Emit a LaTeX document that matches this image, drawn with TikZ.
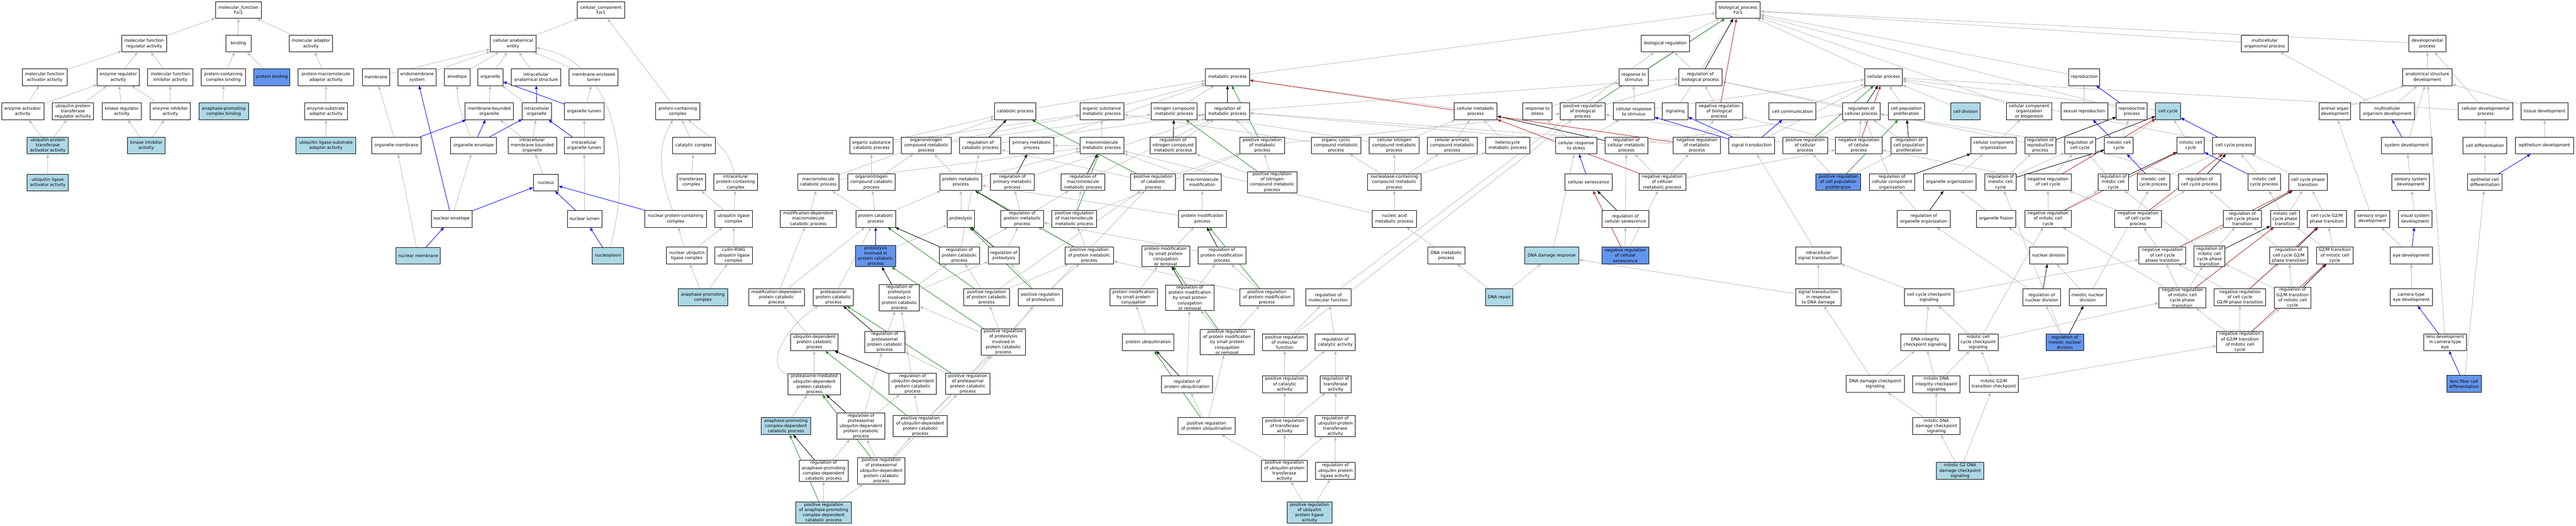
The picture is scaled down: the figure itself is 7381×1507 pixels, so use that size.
\documentclass[tikz,border=0pt]{standalone}
\usepackage{fontspec}
\setmainfont{DejaVu Sans}
\usetikzlibrary{arrows.meta}
\definecolor{cLB}{HTML}{ADD8E6}
\definecolor{cCB}{HTML}{6495ED}
\definecolor{cGray}{HTML}{BEBEBE}
\definecolor{cGreen}{HTML}{228B22}
\definecolor{cRed}{HTML}{B22222}
\pgfdeclarelayer{bg}\pgfsetlayers{bg,main}
\tikzset{
 gn/.style={draw=black, line width=1.3pt, fill=white, align=center, font=\fontsize{12}{15}\selectfont, inner xsep=2pt, inner ysep=2pt, minimum height=48pt},
 gnl/.style={gn, fill=cLB},
 gnc/.style={gn, fill=cCB},
 arr/.style={-{Triangle[length=10pt,width=8pt]}, line width=1.3pt},
 eg/.style={arr, draw=cGray},
 eb/.style={arr, draw=blue},
 ek/.style={arr, draw=black},
 egr/.style={arr, draw=cGreen},
 er/.style={arr, draw=cRed}
}
\newcommand{\gnode}[6][gn]{\node[#1, minimum width=#5pt] (#2) at (#3,#4) {#6};}
\begin{document}
\begin{tikzpicture}[x=1pt,y=-1pt]
\useasboundingbox (0,0) rectangle (7381,1507);
% ---------- molecular function ----------
\gnode{mfroot}{683}{29}{131}{molecular\_function\\Fzr1}
\gnode{mfreg}{413}{125}{128}{molecular function\\regulator activity}
\gnode{mfact}{128}{221}{129}{molecular function\\activator activity}
\gnode{enzreg}{339}{221}{121}{enzyme regulator\\activity}
\gnode{mfinh}{488}{221}{129}{molecular function\\inhibitor activity}
\gnode{enzact}{65}{319}{121}{enzyme activator\\activity}
\gnode{uptreg}{209}{319}{118}{ubiquitin-protein\\transferase\\regulator activity}
\gnode{kinreg}{349}{319}{112}{kinase regulator\\activity}
\gnode{enzinh}{488}{319}{116}{enzyme inhibitor\\activity}
\gnode[gnl]{uptact}{137}{417}{118}{ubiquitin-protein\\transferase\\activator activity}
\gnode[gnl]{kininh}{419}{417}{107}{kinase inhibitor\\activity}
\gnode[gnl]{ulact}{137}{523}{118}{ubiquitin ligase\\activator activity}
\gnode{binding}{683}{125}{73}{binding}
\gnode{molad}{891}{125}{125}{molecular adaptor\\activity}
\gnode{pccb}{640}{221}{126}{protein-containing\\complex binding}
\gnode[gnc]{protb}{779}{221}{104}{protein binding}
\gnode{pmad}{934}{221}{159}{protein-macromolecule\\adaptor activity}
\gnode[gnl]{apcb}{641}{319}{141}{anaphase-promoting\\complex binding}
\gnode{esad}{934}{319}{123}{enzyme-substrate\\adaptor activity}
\gnode[gnl]{ulsad}{934}{417}{171}{ubiquitin ligase-substrate\\adaptor activity}
% ---------- cellular component ----------
\gnode{membrane}{1077}{221}{78}{membrane}
\gnode{endo}{1195}{221}{109}{endomembrane\\system}
\gnode{orgmem}{1136}{417}{142}{organelle membrane}
\gnode[gnl]{nucmem}{1198}{733}{128}{nuclear membrane}
\gnode{ccroot}{1722}{29}{135}{cellular\_component\\Fzr1}
\gnode{cae}{1470}{125}{131}{cellular anatomical\\entity}
\gnode{envelope}{1310}{221}{73}{envelope}
\gnode{organelle}{1405}{221}{72}{organelle}
\gnode{ias}{1536}{221}{141}{intracellular\\anatomical structure}
\gnode{mel}{1701}{221}{140}{membrane-enclosed\\lumen}
\gnode{mbo}{1402}{319}{139}{membrane-bounded\\organelle}
\gnode{io}{1538}{319}{83}{intracellular\\organelle}
\gnode{orglumen}{1674}{319}{113}{organelle lumen}
\gnode{orgenv}{1357}{417}{131}{organelle envelope}
\gnode{imbo}{1525}{417}{139}{intracellular\\membrane-bounded\\organelle}
\gnode{iol}{1674}{417}{113}{intracellular\\organelle lumen}
\gnode{nucleus}{1564}{523}{72}{nucleus}
\gnode{nucenv}{1294}{627}{117}{nuclear envelope}
\gnode{nuclumen}{1675}{627}{99}{nuclear lumen}
\gnode[gnl]{nucleoplasm}{1742}{733}{89}{nucleoplasm}
\gnode{pcc}{1942}{319}{126}{protein-containing\\complex}
\gnode{catcx}{1988}{417}{123}{catalytic complex}
\gnode{transcx}{1981}{522}{80}{transferase\\complex}
\gnode{ipcc}{2108}{522}{126}{intracellular\\protein-containing\\complex}
\gnode{npcc}{1936}{627}{178}{nuclear protein-containing\\complex}
\gnode{ulc}{2102}{627}{107}{ubiquitin ligase\\complex}
\gnode{nulc}{1968}{732}{116}{nuclear ubiquitin\\ligase complex}
\gnode{crl}{2102}{732}{107}{cullin-RING\\ubiquitin ligase\\complex}
\gnode[gnl]{apc}{2014}{852}{141}{anaphase-promoting\\complex}
% ---------- catabolic ----------
\gnode{mcp}{2345}{522}{118}{macromolecule\\catabolic process}
\gnode{mdmcp}{2316}{627}{161}{modification-dependent\\macromolecule\\catabolic process}
\gnode{mdpcp}{2225}{852}{160}{modification-dependent\\protein catabolic\\process}
\gnode{ppcp}{2388}{852}{115}{proteasomal\\protein catabolic\\process}
\gnode{udpcp}{2333}{981}{137}{ubiquitin-dependent\\protein catabolic\\process}
\gnode{pmudpcp}{2333}{1101}{150}{proteasome-mediated\\ubiquitin-dependent\\protein catabolic\\process}
\gnode[gnl]{apcdcp}{2252}{1221}{142}{anaphase-promoting\\complex-dependent\\catabolic process}
\gnode{regpudpcp}{2467}{1221}{137}{regulation of\\proteasomal\\ubiquitin-dependent\\protein catabolic\\process}
\gnode{regapcdcp}{2360}{1349}{141}{regulation of\\anaphase-promoting\\complex-dependent\\catabolic process}
\gnode[gnl]{posregapcdcp}{2360}{1469}{159}{positive regulation\\of anaphase-promoting\\complex-dependent\\catabolic process}
\gnode{catab}{2909}{319}{118}{catabolic process}
\gnode{oscp}{2497}{417}{125}{organic substance\\catabolic process}
\gnode{oncmp}{2654}{417}{143}{organonitrogen\\compound metabolic\\process}
\gnode{regcatab}{2809}{417}{118}{regulation of\\catabolic process}
\gnode{primmp}{2956}{417}{126}{primary metabolic\\process}
\gnode{onccp}{2497}{522}{136}{organonitrogen\\compound catabolic\\process}
\gnode{protmp}{2753}{522}{120}{protein metabolic\\process}
\gnode{regprimmp}{2901}{522}{126}{regulation of\\primary metabolic\\process}
\gnode{pcp}{2509}{627}{114}{protein catabolic\\process}
\gnode{proteolysis}{2753}{627}{78}{proteolysis}
\gnode{regprotmp}{2929}{627}{122}{regulation of\\protein metabolic\\process}
\gnode{posregmmp}{3078}{627}{129}{positive regulation\\of macromolecule\\metabolic process}
\gnode[gnc]{pipcp}{2509}{734}{115}{proteolysis\\involved in\\protein catabolic\\process}
\gnode{regpcp}{2749}{732}{115}{regulation of\\protein catabolic\\process}
\gnode{regproteolysis}{2876}{732}{88}{regulation of\\proteolysis}
\gnode{regpipcp}{2577}{853}{115}{regulation of\\proteolysis\\involved in\\protein catabolic\\process}
\gnode{posregpcp}{2827}{852}{131}{positive regulation\\of protein catabolic\\process}
\gnode{posregproteolysis}{2981}{852}{128}{positive regulation\\of proteolysis}
\gnode{regppcp}{2535}{980}{115}{regulation of\\proteasomal\\protein catabolic\\process}
\gnode{posregpipcp}{2875}{980}{127}{positive regulation\\of proteolysis\\involved in\\protein catabolic\\process}
\gnode{regudpcp}{2615}{1100}{137}{regulation of\\ubiquitin-dependent\\protein catabolic\\process}
\gnode{posregppcp}{2773}{1100}{128}{positive regulation\\of proteasomal\\protein catabolic\\process}
\gnode{posregudpcp}{2637}{1221}{155}{positive regulation\\of ubiquitin-dependent\\protein catabolic\\process}
\gnode{posregpudpcp}{2525}{1349}{137}{positive regulation\\of proteasomal\\ubiquitin-dependent\\protein catabolic\\process}
% ---------- metabolic ----------
\gnode{metab}{3517}{221}{126}{metabolic process}
\gnode{osmp}{3157}{319}{125}{organic substance\\metabolic process}
\gnode{ncmp}{3364}{319}{131}{nitrogen compound\\metabolic process}
\gnode{regmp}{3517}{319}{126}{regulation of\\metabolic process}
\gnode{mmp}{3157}{417}{125}{macromolecule\\metabolic process}
\gnode{regncmp}{3361}{417}{132}{regulation of\\nitrogen compound\\metabolic process}
\gnode{posregmp}{3617}{417}{129}{positive regulation\\of metabolic\\process}
\gnode{regmmp}{3103}{522}{126}{regulation of\\macromolecule\\metabolic process}
\gnode{posregcatab}{3304}{522}{128}{positive regulation\\of catabolic\\process}
\gnode{mmod}{3445}{522}{107}{macromolecule\\modification}
\gnode{posregncmp}{3645}{522}{142}{positive regulation\\of nitrogen\\compound metabolic\\process}
\gnode{pmodp}{3445}{627}{138}{protein modification\\process}
\gnode{posregprotmp}{3121}{732}{139}{positive regulation\\of protein metabolic\\process}
\gnode{pmspcr}{3340}{734}{137}{protein modification\\by small protein\\conjugation\\or removal}
\gnode{regpmodp}{3501}{732}{137}{regulation of\\protein modification\\process}
\gnode{pmspc}{3248}{852}{136}{protein modification\\by small protein\\conjugation}
\gnode{regpmspcr}{3409}{853}{138}{regulation of\\protein modification\\by small protein\\conjugation\\or removal}
\gnode{posregpmodp}{3630}{852}{155}{positive regulation\\of protein modification\\process}
\gnode{pubiq}{3290}{981}{147}{protein ubiquitination}
\gnode{posregpmspcr}{3516}{980}{155}{positive regulation\\of protein modification\\by small protein\\conjugation\\or removal}
\gnode{posregmf}{3681}{981}{128}{positive regulation\\of molecular\\function}
\gnode{regpubiq}{3401}{1101}{147}{regulation of\\protein ubiquitination}
\gnode{posregcatact}{3681}{1101}{128}{positive regulation\\of catalytic\\activity}
\gnode{posregpubiq}{3457}{1221}{164}{positive regulation\\of protein ubiquitination}
\gnode{posregtransact}{3681}{1221}{128}{positive regulation\\of transferase\\activity}
\gnode{posregupta}{3680}{1349}{131}{positive regulation\\of ubiquitin-protein\\transferase\\activity}
\gnode[gnl]{posregupla}{3752}{1469}{129}{positive regulation\\of ubiquitin\\protein ligase\\activity}
\gnode{cmp}{4228}{319}{123}{cellular metabolic\\process}
\gnode{occmp}{3828}{417}{142}{organic cyclic\\compound metabolic\\process}
\gnode{cncmp}{3995}{417}{143}{cellular nitrogen\\compound metabolic\\process}
\gnode{cacmp}{4161}{417}{143}{cellular aromatic\\compound metabolic\\process}
\gnode{hetmp}{4320}{417}{126}{heterocycle\\metabolic process}
\gnode{nbcmp}{3995}{522}{153}{nucleobase-containing\\compound metabolic\\process}
\gnode{namp}{3995}{627}{127}{nucleic acid\\metabolic process}
\gnode{dnamp}{4144}{732}{106}{DNA metabolic\\process}
\gnode[gnl]{dnarep}{4296}{852}{78}{DNA repair}
\gnode{regmf}{3806}{852}{129}{regulation of\\molecular function}
\gnode{regcatact}{3826}{981}{115}{regulation of\\catalytic activity}
\gnode{regtransact}{3827}{1101}{89}{regulation of\\transferase\\activity}
\gnode{regupta}{3826}{1221}{115}{regulation of\\ubiquitin-protein\\transferase\\activity}
\gnode{regupla}{3826}{1349}{114}{regulation of\\ubiquitin protein\\ligase activity}
% ---------- regulation / stimulus ----------
\gnode{bioreg}{4772}{125}{139}{biological regulation}
\gnode{rstim}{4681}{221}{84}{response to\\stimulus}
\gnode{regbp}{4872}{221}{124}{regulation of\\biological process}
\gnode{rstress}{4405}{319}{83}{response to\\stress}
\gnode{posregbp}{4535}{319}{128}{positive regulation\\of biological\\process}
\gnode{crstim}{4681}{319}{118}{cellular response\\to stimulus}
\gnode{signaling}{4800}{319}{73}{signaling}
\gnode{negregbp}{4926}{319}{134}{negative regulation\\of biological\\process}
\gnode{crstress}{4516}{417}{118}{cellular response\\to stress}
\gnode{regcmp}{4660}{417}{123}{regulation of\\cellular metabolic\\process}
\gnode{negregmp}{4862}{417}{135}{negative regulation\\of metabolic\\process}
\gnode{cellsen}{4552}{522}{135}{cellular senescence}
\gnode{negregcmp}{4763}{522}{134}{negative regulation\\of cellular\\metabolic process}
\gnode{regcs}{4657}{627}{134}{regulation of\\cellular senescence}
\gnode[gnl]{ddr}{4446}{732}{155}{DNA damage response}
\gnode[gnc]{negregcs}{4657}{732}{134}{negative regulation\\of cellular\\senescence}
\gnode{bproot}{4980}{29}{126}{biological\_process\\Fzr1}
\gnode{cellproc}{5397}{221}{108}{cellular process}
\gnode{cellcomm}{5136}{319}{134}{cell communication}
\gnode{regcp}{5333}{319}{107}{regulation of\\cellular process}
\gnode{cpp}{5462}{319}{103}{cell population\\proliferation}
\gnode{sigtrans}{5019}{417}{131}{signal transduction}
\gnode{posregcp}{5172}{417}{128}{positive regulation\\of cellular\\process}
\gnode{negregcp}{5326}{417}{133}{negative regulation\\of cellular\\process}
\gnode{regcpp}{5470}{417}{103}{regulation of\\cell population\\proliferation}
\gnode[gnc]{posregcpp}{5267}{522}{129}{positive regulation\\of cell population\\proliferation}
\gnode{regcco}{5421}{522}{130}{regulation of\\cellular component\\organization}
\gnode{orgorg}{5586}{522}{151}{organelle organization}
\gnode{regoo}{5512}{627}{152}{regulation of\\organelle organization}
\gnode{ist}{5210}{732}{131}{intracellular\\signal transduction}
\gnode{strdd}{5210}{852}{131}{signal transduction\\in response\\to DNA damage}
\gnode{cccs}{5527}{852}{142}{cell cycle checkpoint\\signaling}
\gnode{dnaics}{5516}{981}{140}{DNA integrity\\checkpoint signaling}
\gnode{ddcs}{5373}{1100}{167}{DNA damage checkpoint\\signaling}
\gnode{mdnaics}{5548}{1101}{137}{mitotic DNA\\integrity checkpoint\\signaling}
\gnode{mddcs}{5548}{1221}{135}{mitotic DNA\\damage checkpoint\\signaling}
% ---------- cell cycle / reproduction ----------
\gnode{repro}{5972}{221}{88}{reproduction}
\gnode[gnl]{celldiv}{5632}{319}{84}{cell division}
\gnode{ccob}{5814}{319}{131}{cellular component\\organization\\or biogenesis}
\gnode{sexrep}{5972}{319}{134}{sexual reproduction}
\gnode{reprop}{6108}{319}{88}{reproductive\\process}
\gnode{cco}{5712}{417}{130}{cellular component\\organization}
\gnode{regrp}{5846}{417}{89}{regulation of\\reproductive\\process}
\gnode{regcc}{5960}{417}{89}{regulation of\\cell cycle}
\gnode{meicc}{6071}{417}{83}{meiotic cell\\cycle}
\gnode{regmeicc}{5732}{522}{89}{regulation of\\meiotic cell\\cycle}
\gnode{negregcc}{5868}{522}{133}{negative regulation\\of cell cycle}
\gnode{regmitcc}{6055}{522}{88}{regulation of\\mitotic cell\\cycle}
\gnode{mccp}{6170}{522}{93}{meiotic cell\\cycle process}
\gnode{orgfis}{5720}{627}{112}{organelle fission}
\gnode{negregmitcc}{5868}{627}{133}{negative regulation\\of mitotic cell\\cycle}
\gnode{negregccp}{6126}{627}{133}{negative regulation\\of cell cycle\\process}
\gnode{nucdiv}{5870}{732}{109}{nuclear division}
\gnode{negregccpt}{6196}{732}{134}{negative regulation\\of cell cycle\\phase transition}
\gnode{regnd}{5850}{852}{109}{regulation of\\nuclear division}
\gnode{mnd}{5982}{852}{107}{meiotic nuclear\\division}
\gnode{mcccs}{5668}{981}{114}{mitotic cell\\cycle checkpoint\\signaling}
\gnode[gnc]{regmnd}{5916}{981}{108}{regulation of\\meiotic nuclear\\division}
\gnode{mg2mtc}{5713}{1100}{141}{mitotic G2/M\\transition checkpoint}
\gnode[gnl]{mg2ddcs}{5616}{1349}{135}{mitotic G2 DNA\\damage checkpoint\\signaling}
\gnode{mop}{6489}{125}{134}{multicellular\\organismal process}
\gnode[gnl]{cellcycle}{6212}{319}{72}{cell cycle}
\gnode{aod}{6690}{319}{91}{animal organ\\development}
\gnode{mitcc}{6277}{417}{78}{mitotic cell\\cycle}
\gnode{ccp}{6401}{417}{122}{cell cycle process}
\gnode{regccp}{6302}{522}{121}{regulation of\\cell cycle process}
\gnode{mitccp}{6487}{522}{93}{mitotic cell\\cycle process}
\gnode{ccpt}{6613}{522}{110}{cell cycle phase\\transition}
\gnode{regccpt}{6425}{627}{110}{regulation of\\cell cycle phase\\transition}
\gnode{mitccpt}{6547}{627}{83}{mitotic cell\\cycle phase\\transition}
\gnode{ccg2m}{6667}{627}{111}{cell cycle G2/M\\phase transition}
\gnode{sod}{6797}{627}{100}{sensory organ\\development}
\gnode{regmitccpt}{6331}{734}{89}{regulation of\\mitotic cell\\cycle phase\\transition}
\gnode{regccg2m}{6558}{732}{110}{regulation of\\cell cycle G2/M\\phase transition}
\gnode{g2mt}{6690}{732}{105}{G2/M transition\\of mitotic cell\\cycle}
\gnode{negregmitccpt}{6253}{853}{134}{negative regulation\\of mitotic cell\\cycle phase\\transition}
\gnode{negregccg2m}{6418}{852}{148}{negative regulation\\of cell cycle\\G2/M phase transition}
\gnode{regg2mt}{6569}{853}{105}{regulation of\\G2/M transition\\of mitotic cell\\cycle}
\gnode{negregg2mt}{6418}{980}{133}{negative regulation\\of G2/M transition\\of mitotic cell\\cycle}
% ---------- development ----------
\gnode{devp}{6955}{125}{105}{developmental\\process}
\gnode{asd}{6955}{221}{141}{anatomical structure\\development}
\gnode{mod}{6840}{319}{157}{multicellular\\organism development}
\gnode{cdp}{7122}{319}{156}{cellular developmental\\process}
\gnode{tissue}{7291}{319}{134}{tissue development}
\gnode{sysdev}{6896}{417}{145}{system development}
\gnode{celldiff}{7120}{417}{125}{cell differentiation}
\gnode{epidev}{7291}{417}{167}{epithelium development}
\gnode{ssd}{6907}{522}{109}{sensory system\\development}
\gnode{ecd}{7120}{522}{99}{epithelial cell\\differentiation}
\gnode{vsd}{6920}{627}{96}{visual system\\development}
\gnode{eyedev}{6909}{732}{120}{eye development}
\gnode{cted}{6909}{852}{120}{camera-type\\eye development}
\gnode{ldcte}{7006}{981}{123}{lens development\\in camera-type\\eye}
\gnode[gnc]{lfcd}{7060}{1100}{99}{lens fiber cell\\differentiation}
% ---------- edges ----------
\begin{pgfonlayer}{bg}
\fill[white] (0,0) rectangle (7381,1507);
\foreach \a/\b in {mfreg/mfroot,binding/mfroot,molad/mfroot,mfact/mfreg,enzreg/mfreg,mfinh/mfreg,
 enzact/mfact,enzact/enzreg,uptreg/enzreg,kinreg/enzreg,enzinh/enzreg,enzinh/mfinh,
 uptact/enzact,uptact/uptreg,kininh/kinreg,kininh/enzinh,ulact/uptact,
 pccb/binding,protb/binding,pmad/molad,apcb/pccb,esad/pmad,ulsad/esad,
 membrane/cae,endo/cae,orgmem/membrane,nucmem/orgmem,cae/ccroot,pcc/ccroot,
 envelope/cae,organelle/cae,ias/cae,mel/cae,mbo/organelle,io/organelle,orglumen/mel,
 imbo/mbo,imbo/io,iol/orglumen,nucleus/imbo,nucenv/orgenv,nuclumen/iol,
 catcx/pcc,transcx/catcx,ulc/transcx,ulc/ipcc,nulc/npcc,nulc/ulc,crl/ulc,apc/nulc,apc/crl,
 catab/metab,oscp/catab,oscp/osmp,oncmp/osmp,oncmp/ncmp,primmp/metab,onccp/oscp,onccp/oncmp,
 protmp/oncmp,protmp/mmp,pcp/onccp,pcp/protmp,pcp/mcp,proteolysis/protmp,mcp/catab,mcp/mmp,
 mdmcp/mcp,mdpcp/mdmcp,mdpcp/pcp,ppcp/pcp,udpcp/mdpcp,pmudpcp/udpcp,apcdcp/pmudpcp,pipcp/proteolysis,
 regcatab/regmp,regprimmp/regmp,regprotmp/regprimmp,regprotmp/regmmp,regpcp/regcatab,regpcp/regprotmp,
 regproteolysis/regprotmp,regpipcp/regpcp,regpipcp/regproteolysis,regppcp/regpipcp,regudpcp/regpipcp,
 regpudpcp/regppcp,regpudpcp/regudpcp,regapcdcp/regpudpcp,
 posregpcp/regpcp,posregpcp/posregprotmp,posregpcp/posregcatab,posregproteolysis/regproteolysis,
 posregproteolysis/posregprotmp,posregpipcp/regpipcp,posregpipcp/posregpcp,posregpipcp/posregproteolysis,
 posregppcp/regppcp,posregppcp/posregpipcp,posregudpcp/regudpcp,posregudpcp/posregpipcp,posregudpcp/posregcatab,
 posregpudpcp/regpudpcp,posregpudpcp/posregppcp,posregpudpcp/posregudpcp,posregapcdcp/regapcdcp,posregapcdcp/posregpudpcp,
 osmp/metab,ncmp/metab,mmp/osmp,mmp/primmp,regncmp/regmp,posregmp/regmp,posregmp/posregbp,regmmp/regmp,
 posregcatab/regcatab,posregcatab/posregmp,mmod/mmp,posregncmp/regncmp,posregncmp/posregmp,posregmmp/regmmp,
 posregmmp/posregmp,pmodp/mmod,pmodp/protmp,posregprotmp/regprotmp,posregprotmp/posregmmp,pmspcr/pmodp,
 regpmodp/regprotmp,pmspc/pmspcr,regpmspcr/regpmodp,posregpmodp/regpmodp,posregpmodp/posregprotmp,pubiq/pmspc,
 posregpmspcr/regpmspcr,posregpmspcr/posregpmodp,regpubiq/regpmspcr,posregpubiq/regpubiq,posregpubiq/posregpmspcr,
 posregupta/posregpubiq,regmp/regbp,regmf/bioreg,posregmf/regmf,posregmf/posregbp,regcatact/regmf,
 posregcatact/regcatact,posregcatact/posregmf,regtransact/regcatact,posregtransact/regtransact,
 posregtransact/posregcatact,regupta/regtransact,posregupta/regupta,posregupta/posregtransact,regupla/regupta,
 posregupla/regupla,posregupla/posregupta,
 cmp/metab,occmp/osmp,cncmp/ncmp,cncmp/cmp,cacmp/cmp,hetmp/cmp,nbcmp/occmp,nbcmp/cncmp,nbcmp/cacmp,nbcmp/hetmp,
 namp/nbcmp,namp/mmp,dnamp/namp,dnarep/dnamp,dnarep/ddr,
 bioreg/bproot,rstim/bproot,regbp/bioreg,rstress/rstim,posregbp/regbp,crstim/rstim,crstim/cellproc,signaling/bproot,
 negregbp/regbp,crstress/rstress,crstress/crstim,regcmp/regmp,regcmp/regcp,negregmp/regmp,negregmp/negregbp,
 negregcmp/regcmp,negregcmp/negregmp,negregcmp/negregcp,regcs/regcmp,negregcs/regcs,negregcs/negregcmp,
 ddr/crstress,strdd/ddr,
 metab/bproot,cellproc/bproot,cellcomm/cellproc,regcp/regbp,cpp/cellproc,sigtrans/cellproc,posregcp/regcp,
 posregcp/posregbp,negregcp/regcp,negregcp/negregbp,regcpp/regcp,posregcpp/regcpp,posregcpp/posregcp,regcco/regcp,
 regoo/regcco,ist/sigtrans,strdd/ist,cccs/ist,cccs/negregccpt,dnaics/cccs,ddcs/strdd,ddcs/dnaics,mdnaics/dnaics,
 mdnaics/mcccs,mddcs/ddcs,mddcs/mdnaics,
 repro/bproot,celldiv/cellproc,ccob/bproot,sexrep/repro,reprop/bproot,cco/ccob,regrp/regbp,meicc/reprop,
 meicc/cellcycle,orgorg/cco,regmeicc/regrp,regmeicc/regcc,negregcc/regcc,negregcc/negregcp,regmitcc/regcc,
 regcc/regcp,mccp/ccp,orgfis/orgorg,negregmitcc/negregcc,negregmitcc/regmitcc,negregccp/regccp,negregccp/negregcc,
 nucdiv/orgfis,regnd/regoo,mnd/nucdiv,mnd/mccp,regmnd/regnd,regmnd/regmeicc,mcccs/cccs,mcccs/negregmitcc,
 mcccs/negregmitccpt,mg2mtc/mcccs,mg2mtc/negregg2mt,mg2ddcs/mddcs,mg2ddcs/mg2mtc,
 mop/bproot,cellcycle/cellproc,aod/asd,mitcc/cellcycle,ccp/cellproc,mitccp/ccp,ccpt/ccp,regccp/regcc,
 regccpt/regccp,mitccpt/ccpt,mitccpt/mitccp,ccg2m/ccpt,negregccpt/regccpt,negregccpt/negregccp,
 regmitccpt/regccpt,regmitccpt/regmitcc,regccg2m/regccpt,g2mt/ccg2m,g2mt/mitccpt,negregmitccpt/negregccpt,
 negregmitccpt/regmitccpt,negregmitccpt/negregmitcc,negregccg2m/regccg2m,negregccg2m/negregccpt,
 regg2mt/regccg2m,regg2mt/regmitccpt,negregg2mt/regg2mt,negregg2mt/negregccg2m,negregg2mt/negregmitccpt,
 devp/bproot,asd/devp,mod/asd,mod/mop,cdp/devp,cdp/cellproc,tissue/asd,sysdev/asd,celldiff/cdp,epidev/tissue,
 ssd/sysdev,ecd/celldiff,sod/aod,vsd/ssd,eyedev/sod,cted/eyedev,ldcte/asd,lfcd/ecd}
 {\draw[eg] (\a) -- (\b);}
\draw[eg] (nucleoplasm) to[out=75,in=-10] (cae);
\draw[eg] (orgenv) to[out=110,in=-90] (envelope);
\draw[eg] (npcc) to[out=110,in=-120] (pcc);
\draw[eg] (ipcc) to[out=100,in=-40] (pcc);
\draw[eg] (pmudpcp) to[out=160,in=-150] (ppcp);
\foreach \a/\b in {orgmem/mbo,orglumen/organelle,io/ias,orgenv/mbo,orgenv/io,iol/io,nucenv/nucleus,nucenv/endo,
 nuclumen/nucleus,nucleoplasm/nuclumen,npcc/nucleus,nucmem/nucenv,
 pipcp/pcp,cellsen/crstress,sigtrans/signaling,sigtrans/crstim,sigtrans/cellcomm,reprop/repro,meicc/sexrep,
 mccp/meicc,ccp/cellcycle,mitccp/mitcc,sysdev/mod,ecd/epidev,eyedev/vsd,ldcte/cted,lfcd/ldcte}
 {\draw[eb] (\a) -- (\b);}
\foreach \a/\b in {regcatab/catab,regprimmp/primmp,regprotmp/protmp,regpcp/pcp,regproteolysis/proteolysis,
 regpipcp/pipcp,regppcp/ppcp,regudpcp/udpcp,regpudpcp/pmudpcp,regapcdcp/apcdcp,regmp/metab,regncmp/ncmp,
 regmmp/mmp,regpmodp/pmodp,regpmspcr/pmspcr,regpubiq/pubiq,regcmp/cmp,regcs/cellsen,regbp/bproot,regcp/cellproc,
 regcpp/cpp,regcco/cco,regoo/orgorg,regnd/nucdiv,regmnd/mnd,regrp/reprop,regcc/cellcycle,regmeicc/meicc,
 regmitcc/mitcc,regccp/ccp,regccpt/ccpt,regmitccpt/mitccpt,regccg2m/ccg2m,regg2mt/g2mt}
 {\draw[ek] (\a) -- (\b);}
\foreach \a/\b in {posregpcp/pcp,posregproteolysis/proteolysis,posregpipcp/pipcp,posregppcp/ppcp,posregudpcp/udpcp,
 posregpudpcp/pmudpcp,posregapcdcp/apcdcp,posregmp/metab,posregcatab/catab,posregncmp/ncmp,posregmmp/mmp,
 posregprotmp/protmp,posregpmodp/pmodp,posregpmspcr/pmspcr,posregpubiq/pubiq,posregbp/bproot,posregcp/cellproc,
 posregcpp/cpp}
 {\draw[egr] (\a) -- (\b);}
\foreach \a/\b in {negregmp/metab,negregcmp/cmp,negregcs/cellsen,negregbp/bproot,negregcp/cellproc,negregcc/cellcycle,
 negregmitcc/mitcc,negregccp/ccp,negregccpt/ccpt,negregmitccpt/mitccpt,negregccg2m/ccg2m,negregg2mt/g2mt}
 {\draw[er] (\a) -- (\b);}
\end{pgfonlayer}
\end{tikzpicture}
\end{document}
